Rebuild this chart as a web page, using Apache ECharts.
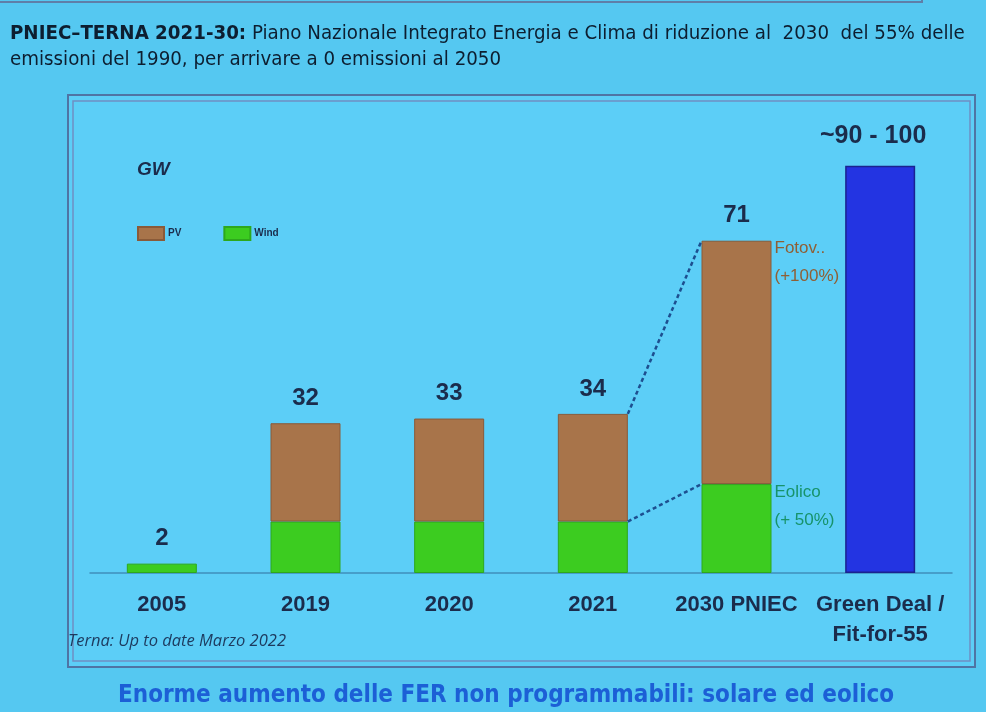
<!DOCTYPE html>
<html>
<head>
<meta charset="utf-8">
<script src="https://cdn.jsdelivr.net/npm/echarts@6/dist/echarts.min.js"></script>
<style>
html,body{margin:0;padding:0;background:#55c8f1;}
#chart{width:986px;height:712px;}
</style>
</head>
<body>
<div id="chart"></div>
<script>
// ---- data ----
const categories = ['2005', '2019', '2020', '2021', '2030 PNIEC', 'Green Deal /\nFit-for-55'];
const windValues = [2, 11, 11, 11, 19, null];
const pvValues = [null, 21, 22, 23, 52, null];
const greenDealValues = [null, null, null, null, null, 87];
const totalLabels = ['2', '32', '33', '34', '71', '~90 - 100'];
// connectors: [fromCategoryIndex, fromValue, toCategoryIndex, toValue]
const connectors = [[3, 34, 4, 71], [3, 11, 4, 19]];
// annotations: [categoryIndex, value, line1, line2]
const annotations = [[4, 71, 'Fotov..', '(+100%)'], [4, 19, 'Eolico', '(+ 50%)']];
const annotationColours = ['#8f5f35', '#17936a'];

const BAR_W = 70;
const labelFont = {fontFamily: 'Liberation Sans, Arial, sans-serif', fontWeight: 'bold', fontSize: 24, color: '#1b2c4c'};

const chart = echarts.init(document.getElementById('chart'), null, {renderer: 'canvas'});

function labelFor(i, show, extra) {
  return Object.assign({show: show, position: 'top', distance: 13, formatter: totalLabels[i]}, labelFont, extra || {});
}

const condensed = 'Liberation Sans Narrow, DejaVu Sans Condensed, sans-serif';

const option = {
  backgroundColor: 'transparent',
  animation: false,
  title: [{
    left: 5, top: 16,
    text: '{b|PNIEC\u2013TERNA 2021-30:} Piano Nazionale Integrato Energia e Clima di riduzione al  2030  del 55% delle\nemissioni del 1990, per arrivare a 0 emissioni al 2050',
    textStyle: {
      fontFamily: condensed,
      fontSize: 20.3, fontWeight: 'normal', color: '#0d1e30', lineHeight: 26,
      rich: {b: {fontFamily: condensed, fontSize: 20.3, fontWeight: 'bold', color: '#0d1e30', lineHeight: 26}}
    }
  }, {
    left: 113, top: 679,
    text: 'Enorme aumento delle FER non programmabili: solare ed eolico',
    textStyle: {fontFamily: condensed, fontSize: 24, fontWeight: 'bold', color: '#1c5fd6'}
  }],
  graphic: [
    {type: 'rect', z: -10, shape: {x: 68, y: 95, width: 907, height: 572}, style: {fill: '#5ccef7', stroke: '#4f74a4', lineWidth: 2}},
    {type: 'rect', z: -9, shape: {x: 73, y: 101, width: 897, height: 560}, style: {fill: 'none', stroke: '#6f8fc4', lineWidth: 1.5}},
    {type: 'polyline', z: -9, shape: {points: [[0, 2], [922, 2], [922, -5]]}, style: {stroke: '#5f7fa8', lineWidth: 2, fill: 'none'}},
    {type: 'text', left: 137, top: 160, style: {text: 'GW', fontFamily: 'Liberation Sans, Arial, sans-serif', fontStyle: 'italic', fontWeight: 'bold', fontSize: 19, fill: '#1b2c4c'}},
    {type: 'text', left: 68, top: 633, style: {text: 'Terna: Up to date Marzo 2022', fontFamily: 'Open Sans, sans-serif', fontStyle: 'italic', fontSize: 16.5, fill: '#1d3a5e'}}
  ],
  legend: {
    data: ['PV', 'Wind'],
    left: 132, top: 221,
    icon: 'rect', itemWidth: 26, itemHeight: 13, itemGap: 42,
    textStyle: {fontFamily: 'Liberation Sans, Arial, sans-serif', fontWeight: 'bold', fontSize: 10, color: '#1b2c4c', padding: [0, 0, 0, -1]}
  },
  grid: {left: 90, width: 862, top: 105, height: 468},
  xAxis: {
    type: 'category', data: categories,
    axisLine: {show: true, lineStyle: {color: '#3f8fbc', width: 1.5}},
    axisTick: {show: false},
    axisLabel: Object.assign({margin: 17, lineHeight: 30, interval: 0}, labelFont, {fontSize: 22})
  },
  yAxis: {type: 'value', min: 0, max: 100, show: false, splitLine: {show: false}},
  series: [
    {
      name: 'Wind', type: 'bar', stack: 'tot', barWidth: BAR_W,
      itemStyle: {color: '#3ccc20', borderColor: '#2ea81c', borderWidth: 1},
      data: windValues.map((v, i) => ({value: v == null ? '-' : v, label: labelFor(i, v != null && pvValues[i] == null)}))
    },
    {
      name: 'PV', type: 'bar', stack: 'tot', barWidth: BAR_W,
      itemStyle: {color: '#a8744a', borderColor: '#8a5a38', borderWidth: 1},
      data: pvValues.map((v, i) => ({value: v == null ? '-' : v, label: labelFor(i, v != null)}))
    },
    {
      name: 'Green Deal', type: 'bar', stack: 'tot', barWidth: BAR_W,
      itemStyle: {color: '#2334e2', borderColor: '#1a2390', borderWidth: 1.5},
      data: greenDealValues.map((v, i) => ({value: v == null ? '-' : v, label: labelFor(i, v != null, {distance: 17, offset: [-7, 0], fontSize: 25})}))
    },
    {
      type: 'custom', name: 'connectors', z: 5,
      data: connectors,
      renderItem: function (params, api) {
        const a = api.coord([api.value(0), api.value(1)]);
        const b = api.coord([api.value(2), api.value(3)]);
        return {type: 'line', shape: {x1: a[0] + BAR_W / 2, y1: a[1], x2: b[0] - BAR_W / 2, y2: b[1]},
          style: {stroke: '#1d4f90', lineWidth: 2.5, lineDash: [4, 3]}};
      }
    },
    {
      type: 'custom', name: 'annotations', z: 6,
      data: annotations,
      renderItem: function (params, api) {
        const p = api.coord([api.value(0), api.value(1)]);
        const item = annotations[params.dataIndex];
        return {type: 'text', x: p[0] + BAR_W / 2 + 3, y: p[1] - 6,
          style: {text: item[2] + '\n' + item[3], fill: annotationColours[params.dataIndex], fontFamily: 'Liberation Sans, Arial, sans-serif', fontSize: 17, lineHeight: 28, align: 'left', verticalAlign: 'top'}};
      }
    }
  ]
};
chart.setOption(option);
</script>
</body>
</html>
